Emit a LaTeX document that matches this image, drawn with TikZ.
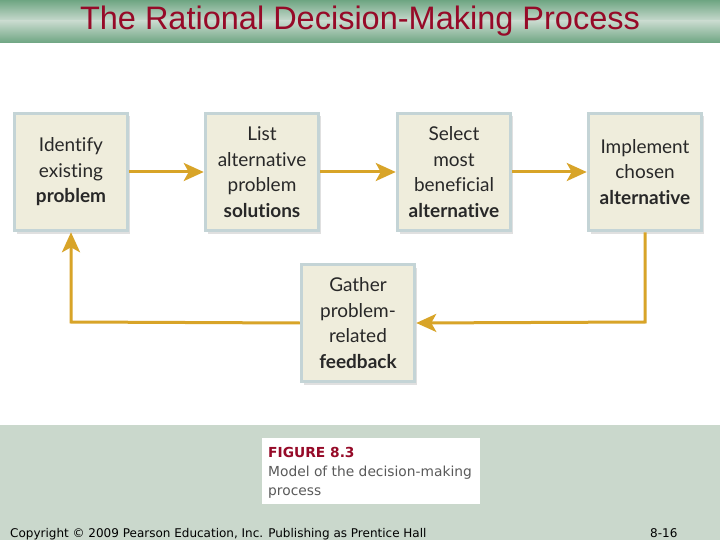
\documentclass[tikz,border=0pt]{standalone}
\usepackage{fontspec}
\setmainfont{Liberation Sans}
\newfontfamily\boxfont[Ligatures={NoCommon,NoDiscretionary,NoRare,NoContextual}]{Lato}
\newfontfamily\verd{DejaVu Sans}
\usetikzlibrary{arrows.meta,shadows}
\definecolor{titlered}{RGB}{150,10,40}
\definecolor{banddark}{RGB}{110,165,130}
\definecolor{bandlight}{RGB}{200,218,206}
\definecolor{bottomband}{RGB}{202,216,204}
\definecolor{boxfill}{RGB}{239,237,220}
\definecolor{boxedge}{RGB}{196,212,214}
\definecolor{gold}{RGB}{216,164,40}
\definecolor{boxtext}{RGB}{40,40,40}
\definecolor{capgrey}{RGB}{90,90,90}
\begin{document}
\begin{tikzpicture}[x=1pt,y=-1pt,
  stepbox/.style={draw=boxedge,line width=3.5pt,fill=boxfill,minimum width=113pt,minimum height=117pt,
    align=center,font=\boxfont\fontsize{19}{25.5}\selectfont,text=boxtext,inner sep=0pt,
    drop shadow={shadow xshift=2pt,shadow yshift=-3pt,fill=black,opacity=0.12}},
  flow/.style={draw=gold,line width=3pt,-{Stealth[length=20pt,width=18pt,inset=5pt]}}]
\useasboundingbox (0,0) rectangle (720,540);
\fill[white] (0,0) rectangle (720,540);
% title band
\shade[top color=banddark,bottom color=bandlight] (0,0) rectangle (720,21);
\shade[top color=bandlight,bottom color=banddark] (0,21) rectangle (720,43);
\node[font=\fontsize{32.5}{34}\selectfont,text=titlered] (title) at (360,21) {The Rational Decision-Making Process};
% bottom band
\fill[bottomband] (0,425) rectangle (720,540);
\fill[white] (262,438) rectangle (480,504);
\node[anchor=north west,align=left,inner sep=0pt,font=\verd\fontsize{13.8}{19}\selectfont,text=capgrey] (cap) at (268,447)
  {{\color{titlered}\bfseries FIGURE 8.3}\\Model of the decision-making\\process};
\node[anchor=base west,inner sep=0pt,font=\verd\fontsize{12}{14}\selectfont,text=black] (copy) at (10,537) {Copyright © 2009 Pearson Education, Inc. Publishing as Prentice Hall};
\node[anchor=base west,inner sep=0pt,font=\verd\fontsize{12}{14}\selectfont,text=black] (pg) at (650,537) {8-16};
% boxes
\node[stepbox] (b1) at (71,172) {Identify\\existing\\\textbf{problem}};
\node[stepbox] (b2) at (262,172) {List\\alternative\\problem\\\textbf{solutions}};
\node[stepbox] (b3) at (454,172) {Select\\most\\beneficial\\\textbf{alternative}};
\node[stepbox] (b4) at (645,172) {Implement\\chosen\\\textbf{alternative}};
\node[stepbox] (b5) at (358,323) {Gather\\problem-\\related\\\textbf{feedback}};
% connectors
\draw[flow] (b1.east) -- (b2.west);
\draw[flow] (b2.east) -- (b3.west);
\draw[flow] (b3.east) -- (b4.west);
\coordinate (c1) at (645,322);
\coordinate (c2) at (71,322);
\draw[flow] (b4.south) -- (c1) -- (b5.east);
\draw[flow] (b5.west) -- (c2) -- (b1.south);
\end{tikzpicture}
\end{document}
